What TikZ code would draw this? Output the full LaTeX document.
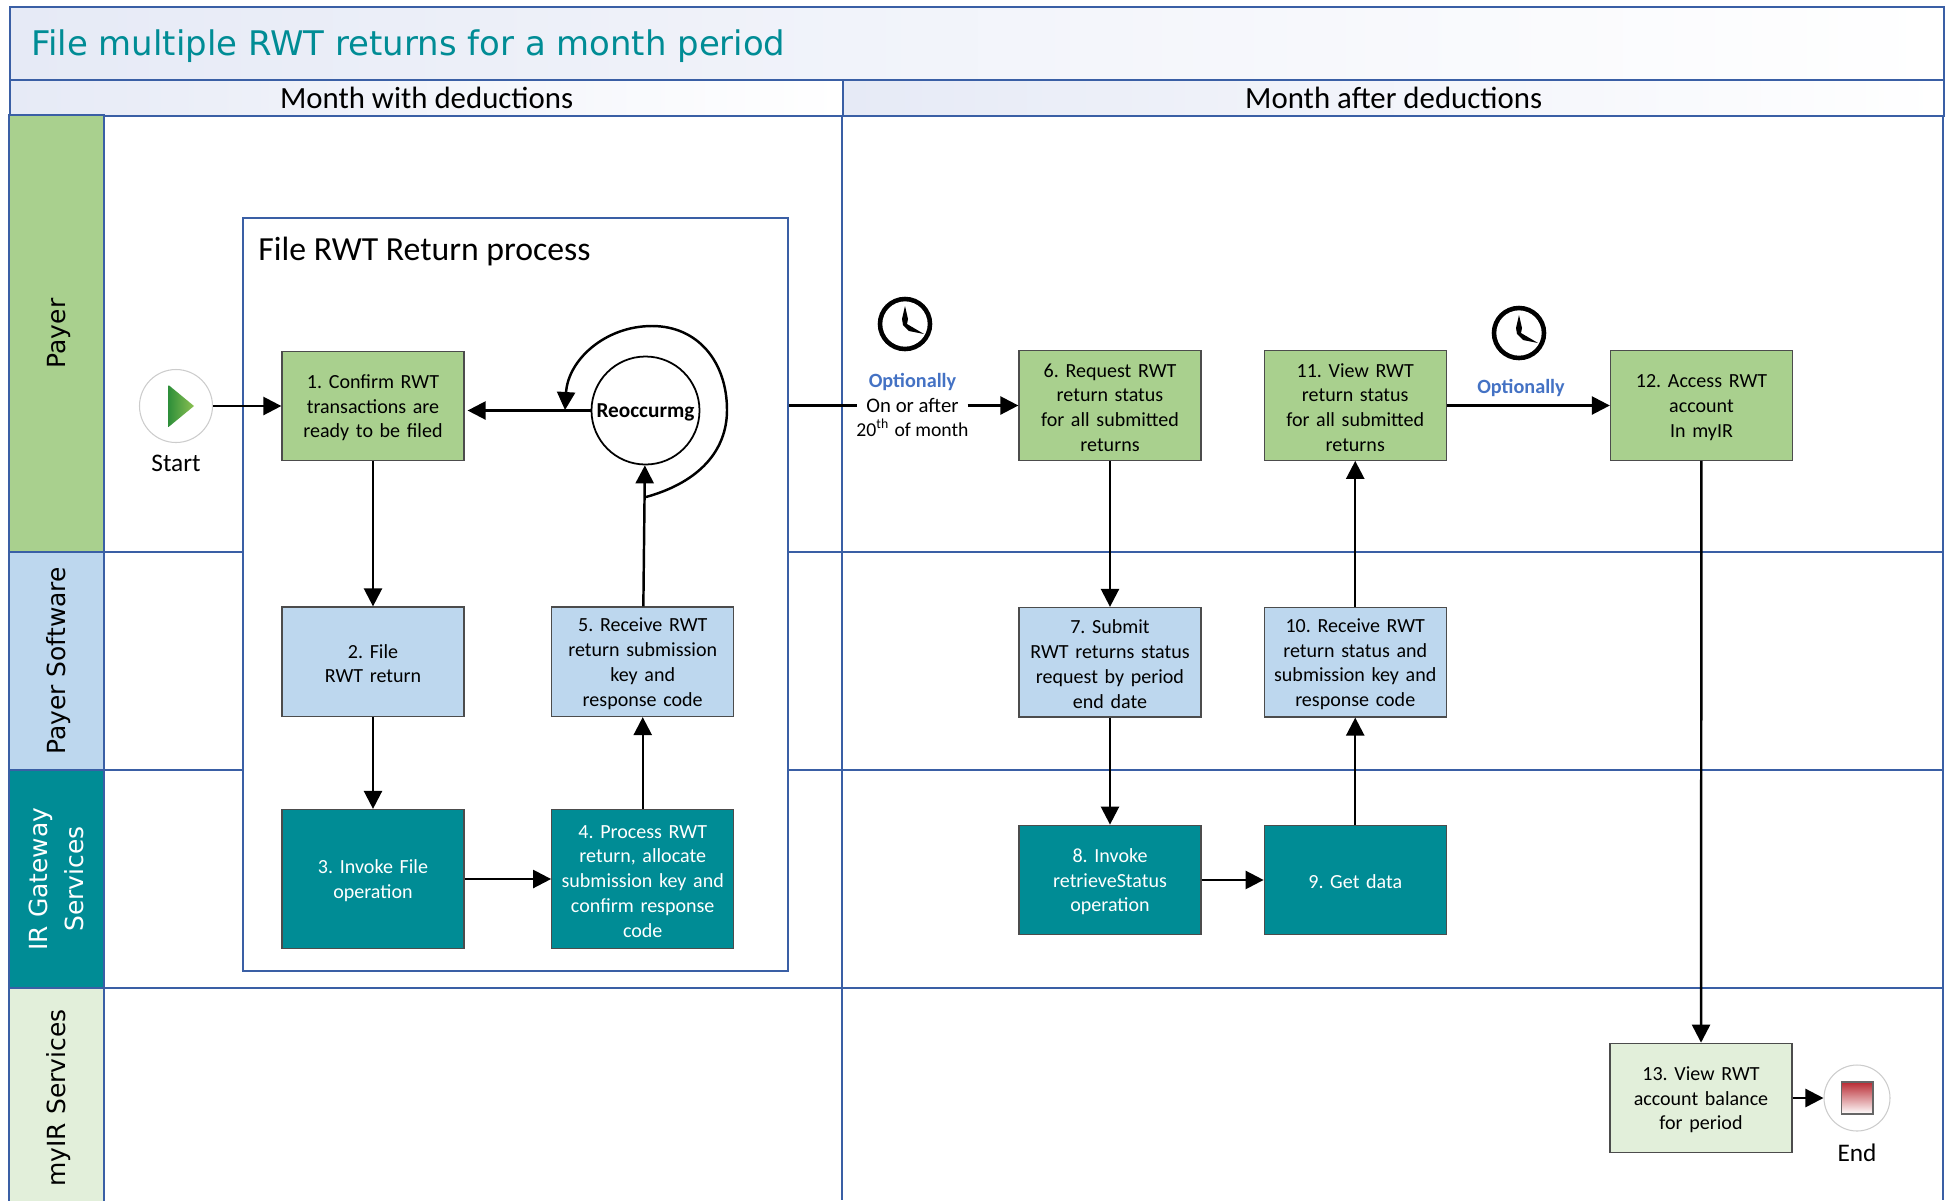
\documentclass[tikz,border=0pt]{standalone}
\usepackage{fontspec}
\setmainfont{Carlito}
\newfontfamily\lanefont{DejaVu Sans}
\usetikzlibrary{positioning}
\usetikzlibrary{arrows.meta}
\definecolor{laneblue}{HTML}{3A5FA5}
\definecolor{teal}{HTML}{008C95}
\definecolor{paygreen}{HTML}{A9D08E}
\definecolor{softblue}{HTML}{BDD7EE}
\definecolor{palegreen}{HTML}{E2EFDA}
\definecolor{headtint}{HTML}{E6EAF6}
\definecolor{optblue}{HTML}{4472C4}
\definecolor{startdark}{HTML}{2F8F3A}
\definecolor{startlight}{HTML}{8CC152}
\definecolor{endred}{HTML}{B92B33}
\tikzset{
    lane/.style={draw=laneblue, line width=.65pt, rotate=90, minimum height=.945cm, inner sep=0pt, align=center,
        text depth=0pt, font=\lanefont\fontsize{7.1}{10.3}\selectfont},
    stepbox/.style={draw=black!70, line width=.35pt, minimum width=1.82cm, minimum height=1.095cm, inner sep=0pt,
        text width=1.78cm, align=center, text height=5pt, font=\frenchspacing\fontsize{5.7}{7.05}\selectfont},
    payerstep/.style={stepbox, fill=paygreen},
    softstep/.style={stepbox, fill=softblue},
    gatestep/.style={stepbox, fill=teal, text=white},
    myirstep/.style={stepbox, fill=palegreen},
    event/.style={circle, draw=black!20, line width=.3pt, fill=white, inner sep=0pt},
    clock/.style={circle, draw=black, line width=1.3pt, fill=white, minimum size=.5cm, inner sep=0pt},
    heading/.style={font=\fontsize{8.77}{10}\selectfont},
    flow/.style={-{Triangle[length=.18cm, width=.18cm]}, line width=.7pt}
}
\newcommand{\clockhands}[1]{%
    \fill[shift={(#1)}] (0,.18) -- (.03,.05) -- (.02,0) -- (.19,-.1) -- (.04,-.07) -- (-.02,-.01) -- (-.03,.05) -- cycle;
}
\begin{document}
\begin{tikzpicture}
    \useasboundingbox (0,0) rectangle (19.48,-12);

    % title and column headers
    \node[draw=laneblue, line width=.65pt, left color=headtint, right color=white, minimum width=19.34cm, minimum height=.73cm,
        anchor=north west, inner sep=0pt] (band) at (.09,-.06) {};
    \node[text=teal, font=\lanefont\fontsize{9.65}{11}\selectfont, anchor=west] (title) at (.19,-.46) {File multiple RWT returns for a month period};
    \node[draw=laneblue, line width=.65pt, left color=headtint, right color=white, minimum width=8.33cm, minimum height=.36cm,
        anchor=north west, inner sep=0pt, heading] (month1) at (.09,-.79) {Month with deductions};
    \node[draw=laneblue, line width=.65pt, left color=headtint, right color=white, minimum width=11.01cm, minimum height=.36cm,
        anchor=north west, inner sep=0pt, heading] (month2) at (8.42,-.79) {Month after deductions};

    % swim lanes
    \draw[laneblue, line width=.65pt] (1.04,-5.52) -- (19.43,-5.52) (1.04,-7.7) -- (19.43,-7.7) (1.04,-9.88) -- (19.43,-9.88)
        (8.42,-1.15) -- (8.42,-12) (19.43,-1.15) -- (19.43,-12);
    \node[lane, fill=paygreen, minimum width=4.37cm] (payer) at (.565,-3.335) {Payer};
    \node[lane, fill=softblue, minimum width=2.18cm] (software) at (.565,-6.61) {Payer Software};
    \node[lane, fill=teal, text=white, minimum width=2.18cm] (gateway) at (.565,-8.79) {IR Gateway\\Services};
    \node[lane, fill=palegreen, minimum width=2.2cm] (myir) at (.565,-10.98) {myIR Services};

    % process frame
    \node[draw=laneblue, line width=.65pt, fill=white, minimum width=5.45cm, minimum height=7.53cm, anchor=north west, inner sep=0pt]
        (proc) at (2.42,-2.17) {};
    \node[anchor=west, font=\fontsize{9.6}{11}\selectfont] (proclabel) at (2.46,-2.51) {File RWT Return process};

    % left side
    \node[event, minimum size=.73cm] (start) at (1.76,-4.06) {};
    \shade[left color=startdark, right color=startlight] (1.685,-3.85) -- (1.94,-4.06) -- (1.685,-4.27) -- cycle;
    \node[font=\fontsize{7.2}{8}\selectfont] (startlabel) [below=.0cm of start] {Start};

    \node[payerstep] (confirm) at (3.73,-4.06) {1. Confirm RWT\\transactions are\\ready to be filed};
    \node[softstep] (file) [below=1.45cm of confirm] {2. File\\RWT return};
    \node[gatestep, minimum height=1.39cm] (invoke) at (3.73,-8.79) {3. Invoke File\\operation};
    \node[gatestep, minimum height=1.39cm] (process) [right=.865cm of invoke] {4. Process RWT\\return, allocate\\submission key and\\confirm response\\code};
    \node[softstep] (receive) [right=.865cm of file] {5. Receive RWT\\return submission\\key and\\response code};
    \node[circle, draw, line width=.5pt, minimum size=1.08cm, inner sep=0pt, text depth=0pt, font=\bfseries\fontsize{6.05}{7}\selectfont] (reoccur) at (6.455,-4.105) {Reoccurmg};

    % right side
    \node[font=\fontsize{5.9}{7}\selectfont, fill=white, inner sep=2.4pt] (after) at (9.125,-4.055) {On or after};
    \node[font=\fontsize{5.6}{7}\selectfont, inner sep=0pt] (aftermonth) [below=-.04cm of after] {20\textsuperscript{th} of month};
    \node[text=optblue, inner sep=0pt, font=\bfseries\fontsize{5.75}{7}\selectfont] (opt1) [above=-.02cm of after] {Optionally};
    \node[clock] (clock1) at (9.05,-3.24) {};
    \clockhands{clock1}

    \node[payerstep] (request) at (11.1,-4.055) {6. Request RWT\\return status\\for all submitted\\returns};
    \node[softstep] (submit) [below=1.46cm of request] {7. Submit\\RWT returns status\\request by period\\end date};
    \node[gatestep] (retrieve) [below=1.07cm of submit] {8. Invoke\\retrieveStatus\\operation};
    \node[gatestep] (getdata) [right=.62cm of retrieve] {9. Get data};
    \node[softstep] (status) [right=.62cm of submit] {10. Receive RWT\\return status and\\submission key and\\response code};
    \node[payerstep] (view) [right=.62cm of request] {11. View RWT\\return status\\for all submitted\\returns};
    \node[payerstep] (access) [right=1.63cm of view] {12. Access RWT\\account\\In myIR};
    \node[text=optblue, font=\bfseries\fontsize{5.75}{7}\selectfont] (opt2) at (15.21,-3.88) {Optionally};
    \node[clock] (clock2) at (15.19,-3.33) {};
    \clockhands{clock2}

    \node[myirstep] (balance) at (17.01,-10.98) {13. View RWT\\account balance\\for period};
    \node[event, minimum size=.66cm] (end) at (18.57,-10.98) {};
    \shade[top color=endred, bottom color=white, draw=black!60, line width=.3pt] (18.415,-10.82) rectangle (18.73,-11.14);
    \node[font=\fontsize{7.2}{8}\selectfont] (endlabel) [below=.0cm of end] {End};

    % connectors
    \draw[flow] (start) -- (confirm);
    \draw[flow, shorten >=.03cm] (reoccur.west) -- (reoccur.west -| confirm.east);
    \draw[flow] (confirm) -- (file);
    \draw[flow] (file) -- (invoke);
    \draw[flow] (invoke) -- (process);
    \draw[flow] (process) -- (receive);
    \draw[flow] (receive) -- (reoccur);
    \draw[flow] (6.46,-4.97) .. controls (7.0,-4.82) and (7.27,-4.5) .. (7.27,-4.1)
        .. controls (7.27,-3.62) and (6.98,-3.26) .. (6.52,-3.26)
        .. controls (6.05,-3.26) and (5.68,-3.6) .. (5.65,-4.1);
    \draw[line width=.7pt] (proc.east |- after.west) -- (after.west);
    \draw[flow] (after.east) -- (request.west |- after.east);
    \draw[flow] (request) -- (submit);
    \draw[flow] (submit) -- (retrieve);
    \draw[flow] (retrieve) -- (getdata);
    \draw[flow] (getdata) -- (status);
    \draw[flow] (status) -- (view);
    \draw[flow] (view) -- (access);
    \draw[flow] (access) -- (balance);
    \draw[flow] (balance) -- (end);
\end{tikzpicture}
\end{document}
